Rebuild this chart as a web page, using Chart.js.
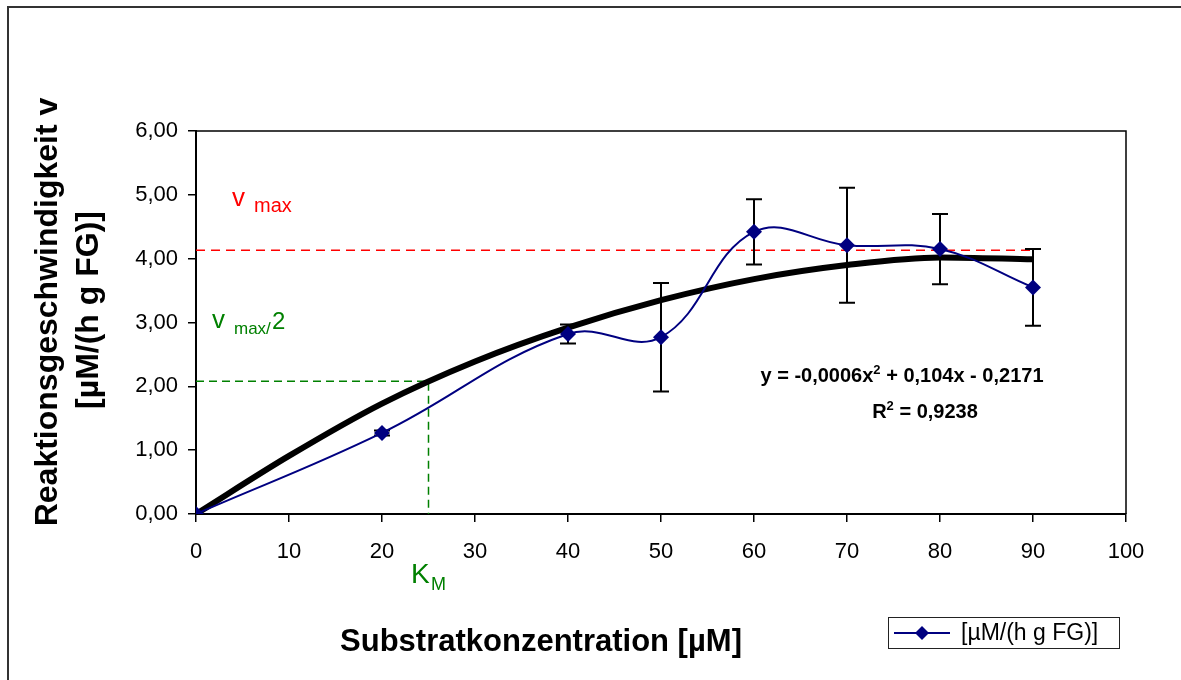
<!DOCTYPE html>
<html>
<head>
<meta charset="utf-8">
<script src="https://cdn.jsdelivr.net/npm/chart.js@4.4.1/dist/chart.umd.min.js"></script>
<style>
  html, body { margin: 0; padding: 0; background: #fff; }
  #wrap { width: 1181px; height: 680px; position: relative; }
</style>
</head>
<body>
<div id="wrap"><canvas id="kinetikChart"></canvas></div>
<script>
// --- data ---
const substrate = [0, 20, 40, 50, 60, 70, 80, 90];
const velocity = [0, 1.27, 2.82, 2.77, 4.42, 4.21, 4.15, 3.55];
const velocityErr = [0, 0.04, 0.15, 0.85, 0.51, 0.90, 0.55, 0.60];

// polynomial trendline as drawn in the picture
const trendX = [0, 10, 20, 30, 40, 50, 60, 70, 80, 90];
const trendY = [0, 0.91, 1.73, 2.39, 2.92, 3.35, 3.68, 3.90, 4.02, 3.99];

// helper lines (v max and v max/2 -> K_M)
const vmaxX = [0, 90];
const vmaxY = [4.13, 4.13];
const halfX = [0, 25, 25];
const halfY = [2.08, 2.08, 0];

const xTickLabels = ['0', '10', '20', '30', '40', '50', '60', '70', '80', '90', '100'];
const yTickLabels = ['0,00', '1,00', '2,00', '3,00', '4,00', '5,00', '6,00'];
const seriesLabel = '[µM/(h g FG)]';
const xTitle = 'Substratkonzentration [µM]';
const yTitle = ['Reaktionsgeschwindigkeit v', '[µM/(h g FG)]'];
const equation = ['y = -0,0006x', '2', ' + 0,104x - 0,2171'];
const rSquared = ['R', '2', ' = 0,9238'];

const FONT = '"Liberation Sans", Arial, Helvetica, sans-serif';
const NAVY = '#000080';

function pts(xs, ys) {
    return xs.map((x, i) => ({ x: x, y: ys[i] }));
}

// draws text pieces next to each other, each with its own font / offset
function drawRich(ctx, parts, x, y, center) {
    let total = 0;
    parts.forEach(p => { ctx.font = p[1]; total += ctx.measureText(p[0]).width; });
    let cx = center ? x - total / 2 : x;
    ctx.textAlign = 'left';
    ctx.textBaseline = 'alphabetic';
    parts.forEach(p => {
        ctx.font = p[1];
        ctx.fillText(p[0], cx, y + (p[2] || 0));
        cx += ctx.measureText(p[0]).width;
    });
}

function diamond(ctx, x, y, r) {
    ctx.beginPath();
    ctx.moveTo(x - r, y);
    ctx.lineTo(x, y - r);
    ctx.lineTo(x + r, y);
    ctx.lineTo(x, y + r);
    ctx.closePath();
    ctx.fill();
}

const decorations = {
    id: 'decorations',
    beforeDraw(chart) {
        const ctx = chart.ctx;
        ctx.save();
        ctx.fillStyle = '#fff';
        ctx.fillRect(0, 0, chart.width, chart.height);
        // outer frame (only top/left visible, chart is cropped)
        ctx.strokeStyle = '#333';
        ctx.lineWidth = 2;
        ctx.strokeRect(8, 7, chart.width + 20, chart.height + 20);
        ctx.restore();
    },
    beforeDatasetsDraw(chart) {
        const ctx = chart.ctx;
        const a = chart.chartArea;
        ctx.save();
        ctx.strokeStyle = '#000';
        ctx.lineWidth = 1.5;
        ctx.beginPath();
        ctx.moveTo(a.left, a.top);
        ctx.lineTo(a.right, a.top);
        ctx.lineTo(a.right, a.bottom);
        ctx.stroke();
        ctx.restore();
    },
    afterDatasetDraw(chart, args) {
        if (args.index !== 1) return;
        // error bars, drawn over the trendline but under the markers
        const ctx = chart.ctx;
        const xs = chart.scales.x, ys = chart.scales.y;
        ctx.save();
        ctx.strokeStyle = '#000';
        ctx.lineWidth = 2;
        substrate.forEach((s, i) => {
            const e = velocityErr[i];
            if (!e) return;
            const px = xs.getPixelForValue(s);
            const top = ys.getPixelForValue(velocity[i] + e);
            const bot = ys.getPixelForValue(velocity[i] - e);
            ctx.beginPath();
            ctx.moveTo(px, top); ctx.lineTo(px, bot);
            ctx.moveTo(px - 8, top); ctx.lineTo(px + 8, top);
            ctx.moveTo(px - 8, bot); ctx.lineTo(px + 8, bot);
            ctx.stroke();
        });
        ctx.restore();
    },
    afterDraw(chart) {
        const ctx = chart.ctx;
        ctx.save();
        ctx.fillStyle = '#000';

        // axis titles
        ctx.font = 'bold 31px ' + FONT;
        ctx.textAlign = 'center';
        ctx.textBaseline = 'alphabetic';
        ctx.fillText(xTitle, 541, 651);
        ctx.font = 'bold 32px ' + FONT;
        ctx.save();
        ctx.translate(57, 312);
        ctx.rotate(-Math.PI / 2);
        ctx.fillText(yTitle[0], 0, 0);
        ctx.restore();
        ctx.save();
        ctx.translate(98, 310);
        ctx.rotate(-Math.PI / 2);
        ctx.fillText(yTitle[1], 0, 0);
        ctx.restore();

        // trendline equation
        drawRich(ctx, [
            [equation[0], 'bold 20px ' + FONT],
            [equation[1], 'bold 13px ' + FONT, -8],
            [equation[2], 'bold 20px ' + FONT]
        ], 902, 382, true);
        drawRich(ctx, [
            [rSquared[0], 'bold 20px ' + FONT],
            [rSquared[1], 'bold 13px ' + FONT, -8],
            [rSquared[2], 'bold 20px ' + FONT]
        ], 925, 418, true);

        // v max label
        ctx.fillStyle = '#ff0000';
        ctx.textAlign = 'left';
        ctx.font = '26px ' + FONT;
        ctx.fillText('v', 232, 206);
        ctx.font = '20px ' + FONT;
        ctx.fillText('max', 254, 212);

        // v max/2 and K_M labels
        ctx.fillStyle = '#008000';
        ctx.font = '26px ' + FONT;
        ctx.fillText('v', 212, 328);
        ctx.font = '17px ' + FONT;
        ctx.fillText('max/', 234, 334);
        ctx.font = '24px ' + FONT;
        ctx.fillText('2', 272, 329);
        ctx.font = '28px ' + FONT;
        ctx.fillText('K', 411, 583);
        ctx.font = '18px ' + FONT;
        ctx.fillText('M', 431, 590);

        // legend box
        ctx.strokeStyle = '#222';
        ctx.lineWidth = 1;
        ctx.strokeRect(888.5, 617.5, 231, 31);
        ctx.strokeStyle = NAVY;
        ctx.fillStyle = NAVY;
        ctx.lineWidth = 2;
        ctx.beginPath();
        ctx.moveTo(894, 633);
        ctx.lineTo(950, 633);
        ctx.stroke();
        diamond(ctx, 922, 633, 7);
        ctx.fillStyle = '#000';
        ctx.font = '23px ' + FONT;
        ctx.textBaseline = 'middle';
        ctx.fillText(seriesLabel, 961, 634);
        ctx.restore();
    }
};

const ctx = document.getElementById('kinetikChart').getContext('2d');
new Chart(ctx, {
    type: 'scatter',
    data: {
        datasets: [{
            label: seriesLabel,
            data: pts(substrate, velocity),
            showLine: true,
            borderColor: NAVY,
            backgroundColor: NAVY,
            borderWidth: 2,
            pointStyle: 'rectRot',
            pointRadius: 8,
            pointBorderWidth: 0,
            tension: 0.4,
            order: 0
        }, {
            label: 'Trend',
            data: pts(trendX, trendY),
            showLine: true,
            borderColor: '#000',
            borderWidth: 6,
            pointRadius: 0,
            cubicInterpolationMode: 'monotone',
            order: 1
        }, {
            label: 'vmax',
            data: pts(vmaxX, vmaxY),
            showLine: true,
            borderColor: '#ff0000',
            borderWidth: 1.5,
            borderDash: [9, 6],
            pointRadius: 0,
            order: 2
        }, {
            label: 'vmax/2',
            data: pts(halfX, halfY),
            showLine: true,
            borderColor: '#008000',
            borderWidth: 1.5,
            borderDash: [8, 5],
            pointRadius: 0,
            order: 3
        }]
    },
    options: {
        responsive: true,
        maintainAspectRatio: false,
        animation: false,
        layout: { padding: { top: 131, right: 55, bottom: 0, left: 0 } },
        plugins: {
            legend: { display: false },
            tooltip: { enabled: false }
        },
        scales: {
            x: {
                type: 'linear',
                min: 0,
                max: 100,
                afterFit(s) { s.height = 166; },
                ticks: {
                    stepSize: 10,
                    autoSkip: false,
                    maxRotation: 0,
                    padding: 17,
                    color: '#000',
                    font: { family: FONT, size: 22 },
                    callback: (v, i) => xTickLabels[i]
                },
                grid: { drawOnChartArea: false, drawTicks: true, tickLength: 8, color: '#000', lineWidth: 1.5 },
                border: { color: '#000', width: 2 }
            },
            y: {
                min: 0,
                max: 6,
                afterFit(s) { s.width = 196; },
                ticks: {
                    stepSize: 1,
                    padding: 10,
                    color: '#000',
                    font: { family: FONT, size: 22 },
                    callback: (v, i) => yTickLabels[i]
                },
                grid: { drawOnChartArea: false, drawTicks: true, tickLength: 8, color: '#000', lineWidth: 1.5 },
                border: { color: '#000', width: 2 }
            }
        }
    },
    plugins: [decorations]
});
</script>
</body>
</html>
